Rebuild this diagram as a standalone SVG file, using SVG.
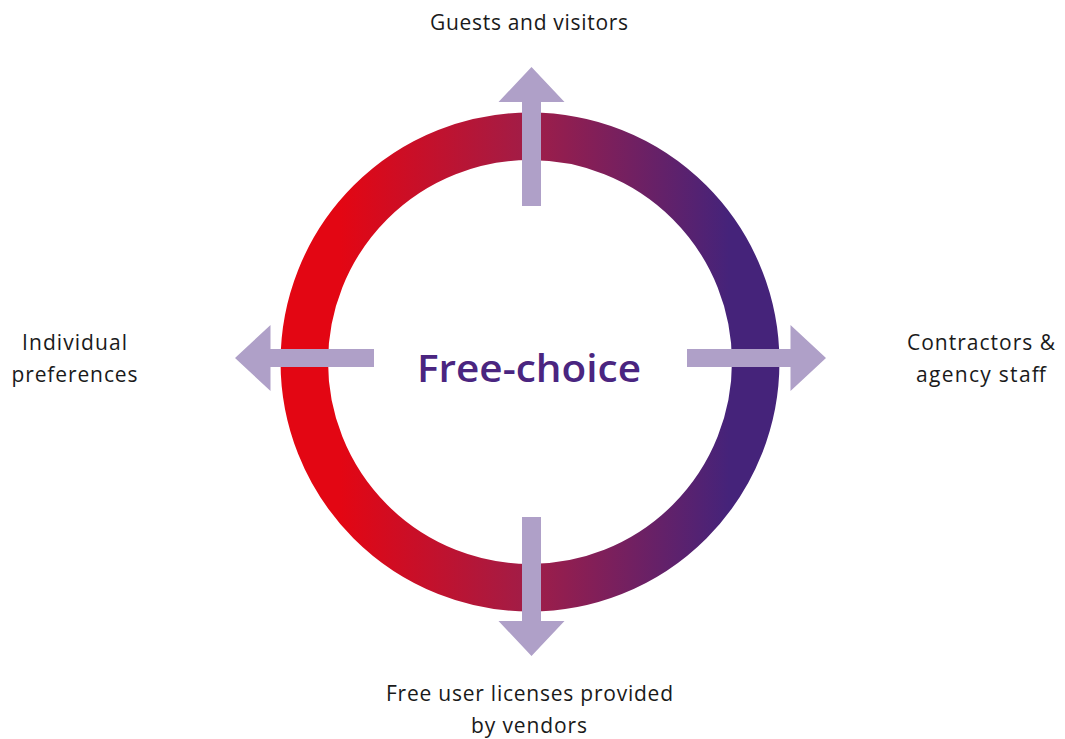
<svg xmlns="http://www.w3.org/2000/svg" width="1065" height="739" viewBox="0 0 1065 739">
<defs>
<linearGradient id="ringGrad" gradientUnits="userSpaceOnUse" x1="281" y1="0" x2="779" y2="0">
<stop offset="0.12" stop-color="#e30613"/>
<stop offset="0.5" stop-color="#a01d48"/>
<stop offset="0.9" stop-color="#45237a"/>
</linearGradient>
<style>
.lbl{font-family:"Open Sans","Noto Sans","Liberation Sans",sans-serif;font-size:21px;fill:#1a1a1a;text-anchor:middle}
.arrow{fill:#afa0c8}
.title{font-family:"Open Sans","Lato","Liberation Sans",sans-serif;font-size:38px;font-weight:600;fill:#4a2580;text-anchor:middle}
</style>
</defs>
<g id="ring">
<circle cx="530" cy="362" r="225.7" fill="none" stroke="url(#ringGrad)" stroke-width="47.5"/>
</g>
<g id="center">
<text class="title" x="529" y="382" textLength="224" lengthAdjust="spacingAndGlyphs">Free-choice</text>
</g>
<g id="connectors">
<polygon class="arrow" points="522,206 522,102 498.5,102 531.5,67 564.5,102 541,102 541,206"/>
<polygon class="arrow" points="374,349 270.5,349 270.5,325 235,358 270.5,391 270.5,367 374,367"/>
<polygon class="arrow" points="687,349 790.5,349 790.5,325 826,358 790.5,391 790.5,367 687,367"/>
<polygon class="arrow" points="522,517 522,621 498.5,621 531.5,656 564.5,621 541,621 541,517"/>
</g>
<g id="node-top">
<text class="lbl" x="529" y="30" textLength="198">Guests and visitors</text>
</g>
<g id="node-left">
<text class="lbl" x="74.5" y="350" textLength="105">Individual</text>
<text class="lbl" x="74.5" y="382" textLength="126">preferences</text>
</g>
<g id="node-right">
<text class="lbl" x="981" y="350" textLength="148">Contractors &amp;</text>
<text class="lbl" x="981" y="382" textLength="130">agency staff</text>
</g>
<g id="node-bottom">
<text class="lbl" x="529.5" y="701" textLength="287">Free user licenses provided</text>
<text class="lbl" x="529" y="733" textLength="116">by vendors</text>
</g>
</svg>
